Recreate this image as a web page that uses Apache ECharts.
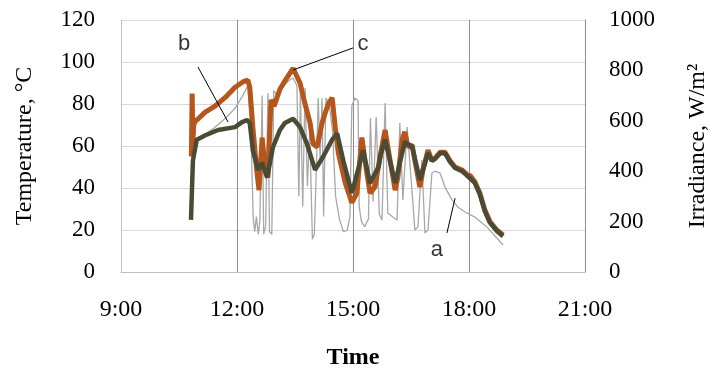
<!DOCTYPE html>
<html>
<head>
<meta charset="utf-8">
<script src="https://cdn.jsdelivr.net/npm/echarts@6/dist/echarts.min.js"></script>
<style>
  html, body { margin: 0; padding: 0; background: #fff; }
  #chart { width: 709px; height: 372px; }
</style>
</head>
<body>
<div id="chart"></div>
<script>
// time in decimal hours, temperatures in °C, irradiance in W/m2
const timeC = [10.82, 10.84, 10.86, 10.88, 10.93, 11.0, 11.17, 11.43, 11.69, 11.95, 12.15, 12.28, 12.33, 12.41, 12.51, 12.57, 12.65, 12.73, 12.8, 12.88, 12.96, 13.11, 13.24, 13.45, 13.63, 13.76, 13.89, 13.97, 14.07, 14.2, 14.28, 14.36, 14.46, 14.54, 14.62, 14.8, 14.97, 15.1, 15.23, 15.31, 15.44, 15.57, 15.7, 15.83, 15.96, 16.09, 16.16, 16.27, 16.34, 16.42, 16.53, 16.6, 16.73, 16.81, 16.94, 17.04, 17.12, 17.25, 17.38, 17.51, 17.64, 17.82, 17.97, 18.03, 18.15, 18.28, 18.41, 18.54, 18.72, 18.88];
const tempC = [55, 85, 62, 70, 72, 73, 76, 79, 83, 88, 90.5, 91.4, 88, 69, 48.6, 39, 64, 48.6, 45, 82, 79, 87, 91, 97, 90, 80, 71, 61, 59.5, 71, 75.7, 80, 83, 69, 56.7, 42.4, 33, 37.6, 64, 53, 37.6, 40.5, 55, 67.6, 53, 39, 45, 63, 66.7, 59.5, 60.5, 53, 40.5, 48.6, 58, 53, 54, 57, 57, 53, 50, 48.6, 46, 46, 43, 37.6, 29.5, 24, 20, 17.6];

const timeB = [10.81, 10.86, 10.96, 11.17, 11.51, 11.95, 12.13, 12.26, 12.33, 12.41, 12.54, 12.65, 12.78, 12.93, 13.11, 13.24, 13.45, 13.63, 13.81, 14.02, 14.23, 14.46, 14.59, 14.75, 14.97, 15.13, 15.26, 15.44, 15.66, 15.72, 15.83, 16.09, 16.34, 16.53, 16.73, 16.94, 17.04, 17.12, 17.25, 17.38, 17.51, 17.64, 17.82, 17.97, 18.15, 18.28, 18.41, 18.54, 18.72, 18.88];
const tempB = [24.8, 53, 63, 65, 67.6, 69, 71.4, 72.4, 71, 58, 48.6, 52, 45, 59.5, 67.6, 71, 73, 69, 61, 48.6, 55, 63, 66, 53, 37.6, 48.6, 58, 42.4, 50, 56, 63, 42.4, 62, 59.5, 43.8, 56.7, 53, 54, 56.5, 56.5, 52.5, 49.5, 48, 45.5, 42.5, 37, 29, 23.5, 19.5, 17];

const timeA = [10.84, 11.1, 11.4, 11.7, 11.95, 12.15, 12.28, 12.36, 12.42, 12.46, 12.5, 12.55, 12.59, 12.65, 12.69, 12.74, 12.8, 12.84, 12.9, 12.95, 13.05, 13.2, 13.35, 13.45, 13.55, 13.6, 13.64, 13.7, 13.76, 13.82, 13.88, 13.95, 14.0, 14.05, 14.1, 14.15, 14.2, 14.24, 14.3, 14.38, 14.47, 14.55, 14.65, 14.75, 14.85, 14.92, 14.97, 15.05, 15.13, 15.16, 15.22, 15.3, 15.4, 15.45, 15.52, 15.6, 15.68, 15.75, 15.83, 15.9, 16.03, 16.14, 16.21, 16.29, 16.4, 16.53, 16.6, 16.68, 16.78, 16.86, 16.94, 17.04, 17.12, 17.25, 17.38, 17.56, 17.71, 17.9, 18.15, 18.46, 18.88];
const irradianceA = [500, 540, 570, 610, 650, 700, 740, 560, 210, 160, 220, 150, 200, 700, 150, 180, 710, 160, 150, 720, 700, 740, 760, 770, 740, 300, 720, 260, 730, 340, 560, 130, 150, 400, 690, 450, 690, 220, 690, 670, 560, 300, 210, 160, 165, 220, 660, 690, 680, 260, 200, 180, 210, 610, 280, 615, 230, 206, 671, 234, 218, 206, 591, 286, 575, 313, 167, 179, 444, 155, 167, 393, 400, 393, 337, 286, 258, 238, 218, 179, 107];

// annotation letters and leader lines, in chart units (time, °C)
const labelNames = ["a", "b", "c"];
const labelPos = [[17.17, 10.5], [10.63, 108.6], [15.26, 108.6]];
const leaderLines = [
  [[17.43, 18.6], [17.64, 35.2]],
  [[10.99, 97.6], [11.77, 71.4]],
  [[15.0, 106.7], [13.45, 96.2]],
];

const zip = (xs, ys) => xs.map((x, i) => [x, ys[i]]);

const serif = "'Liberation Serif', 'DejaVu Serif', serif";
const chart = echarts.init(document.getElementById("chart"));

const option = {
  animation: false,
  grid: { left: 121, right: 124, top: 20, bottom: 100, outerBoundsMode: "none", containLabel: false },
  xAxis: {
    type: "value",
    min: 9,
    max: 21,
    interval: 3,
    name: "Time",
    nameLocation: "middle",
    nameGap: 74,
    nameTextStyle: { fontFamily: serif, fontSize: 24, fontWeight: "bold", color: "#000" },
    axisLine: { show: true, lineStyle: { color: "#bfbfbf" } },
    axisTick: { show: false },
    axisLabel: {
      formatter: (v) => v + ":00",
      fontFamily: serif,
      fontSize: 24,
      color: "#000",
      margin: 26,
    },
    splitLine: { show: true, lineStyle: { color: "#8c8c8c", width: 1 } },
  },
  yAxis: [
    {
      type: "value",
      min: 0,
      max: 120,
      interval: 20,
      name: "Temperature, °C",
      nameLocation: "middle",
      nameRotate: 90,
      nameGap: 84,
      nameTextStyle: { fontFamily: serif, fontSize: 24, color: "#000" },
      axisLine: { show: true, lineStyle: { color: "#bfbfbf" } },
      axisTick: { show: false },
      axisLabel: { fontFamily: serif, fontSize: 23, color: "#000", margin: 26 },
      splitLine: { show: true, lineStyle: { color: "#d9d9d9" } },
    },
    {
      type: "value",
      min: 0,
      max: 1000,
      interval: 200,
      position: "right",
      name: "Irradiance, W/m²",
      nameLocation: "middle",
      nameRotate: 90,
      nameGap: 101,
      nameTextStyle: { fontFamily: serif, fontSize: 24, color: "#000" },
      axisLine: { show: true, lineStyle: { color: "#8c8c8c" } },
      axisTick: { show: false },
      axisLabel: { formatter: (v) => String(v), fontFamily: serif, fontSize: 23, color: "#000", margin: 24 },
      splitLine: { show: false },
    },
  ],
  series: [
    {
      name: "a",
      type: "line",
      yAxisIndex: 1,
      data: zip(timeA, irradianceA),
      showSymbol: false,
      lineStyle: { color: "#a8a8a8", width: 1.3 },
      z: 2,
    },
    {
      name: "c",
      type: "line",
      yAxisIndex: 0,
      data: zip(timeC, tempC),
      showSymbol: false,
      lineStyle: { color: "#b5561c", width: 5 },
      z: 3,
    },
    {
      name: "b",
      type: "line",
      yAxisIndex: 0,
      data: zip(timeB, tempB),
      showSymbol: false,
      lineStyle: { color: "#4b4a35", width: 4.5 },
      z: 4,
    },
    {
      name: "labels",
      type: "scatter",
      yAxisIndex: 0,
      symbolSize: 0,
      data: labelPos.map((p, i) => [p[0], p[1], labelNames[i]]),
      label: {
        show: true,
        position: "inside",
        formatter: (p) => p.value[2],
        fontFamily: "'Liberation Sans', Arial, sans-serif",
        fontSize: 22,
        color: "#000",
      },
      markLine: {
        symbol: "none",
        silent: true,
        label: { show: false },
        lineStyle: { color: "#000", width: 1, type: "solid" },
        data: leaderLines.map((l) => [{ coord: l[0] }, { coord: l[1] }]),
      },
      z: 5,
    },
  ],
};

chart.setOption(option);
</script>
</body>
</html>
